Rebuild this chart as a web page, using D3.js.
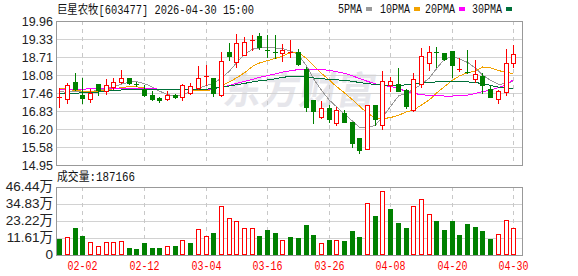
<!DOCTYPE html>
<html>
<head>
<meta charset="utf-8">
<script src="https://cdn.jsdelivr.net/npm/d3@7"></script>
<style>
body { margin: 0; background: #fff; }
svg { display: block; font-family: "Liberation Sans", "Noto Sans CJK SC", sans-serif; }
</style>
</head>
<body>
<div id="chart"></div>
<script>
// trading days shown (60 sessions)
var dates = ["01-28","01-29","01-30","02-02","02-03","02-04","02-05","02-06","02-09","02-10",
  "02-11","02-12","02-13","02-24","02-25","02-26","02-27","03-02","03-03","03-04",
  "03-05","03-06","03-09","03-10","03-11","03-12","03-13","03-16","03-17","03-18",
  "03-19","03-20","03-23","03-24","03-25","03-26","03-27","03-30","03-31","04-01",
  "04-02","04-03","04-07","04-08","04-09","04-10","04-13","04-14","04-15","04-16",
  "04-17","04-20","04-21","04-22","04-23","04-24","04-27","04-28","04-29","04-30"];

var openP = [17.32,17.24,17.84,17.39,17.24,17.76,17.52,17.65,17.84,17.97,
  17.77,17.58,17.37,17.28,17.24,17.39,17.33,17.46,17.63,18.04,
  17.97,17.39,18.89,18.53,18.79,19.29,19.44,18.96,18.89,18.86,
  18.86,18.88,18.28,17.21,16.63,16.93,16.42,16.77,16.45,15.89,
  15.50,17.03,16.33,17.75,17.77,17.56,16.87,17.77,18.49,18.87,
  18.84,18.91,18.27,18.19,17.93,18.05,17.61,17.24,17.49,18.51];
var closeP = [17.33,17.72,17.58,17.29,17.47,17.56,17.72,17.84,17.97,17.79,
  17.76,17.40,17.24,17.20,17.37,17.32,17.72,17.71,17.97,18.06,
  17.47,18.57,18.73,19.21,19.23,19.30,19.04,18.95,18.88,18.95,
  18.88,18.46,16.96,16.84,16.92,16.54,16.86,16.45,15.73,15.47,
  17.03,16.56,17.88,17.86,17.54,17.00,17.95,18.74,18.88,18.86,
  18.63,18.44,18.28,18.18,18.12,17.75,17.31,17.51,18.49,18.81];
var highP = [17.62,17.82,18.16,17.98,17.61,17.78,17.93,17.98,18.26,17.98,
  17.84,17.73,17.51,17.32,17.54,17.42,17.76,17.79,18.40,18.42,
  17.98,18.87,19.19,19.51,19.42,19.47,19.53,19.47,19.47,19.15,
  19.30,18.97,18.35,17.21,17.16,17.05,16.96,16.86,16.45,15.89,
  17.03,17.03,18.23,18.00,18.33,17.61,18.16,19.02,19.09,19.05,
  18.84,18.93,18.67,18.95,18.60,18.14,17.70,17.56,18.97,19.11];
var lowP = [16.96,17.12,17.56,17.12,17.15,17.40,17.42,17.61,17.79,17.77,
  17.70,17.35,17.21,17.13,17.21,17.28,17.21,17.42,17.61,17.72,
  17.35,17.35,18.59,18.37,18.77,18.95,18.99,18.72,18.66,18.56,
  18.70,18.44,16.82,16.42,16.59,16.45,16.33,16.45,15.59,15.38,
  15.49,16.33,16.19,17.51,17.51,16.93,16.84,17.65,18.26,18.37,
  18.60,18.02,18.21,18.14,17.84,17.44,17.31,17.12,17.40,18.35];
var prevClose = 17.40; // close of the session before 01-28

// volume in 万 (10k lots)
var volume = [10.93,12.07,18.44,12.98,8.88,5.92,8.88,8.88,9.56,4.78,
  4.10,8.20,4.78,4.78,5.92,6.15,10.24,8.20,17.53,12.75,
  15.03,33.25,25.05,23.00,18.20,18.20,12.98,17.07,15.03,10.24,
  12.29,11.61,20.49,13.66,8.20,10.24,10.24,9.56,16.39,12.29,
  35.30,26.60,43.50,31.40,21.90,18.40,33.50,38.00,28.00,23.20,
  17.07,23.20,13.66,21.20,19.10,16.39,10.93,14.34,23.70,18.72];

// moving averages
var ma5 = [17.50,17.48,17.52,17.52,17.50,17.55,17.60,17.68,17.76,17.84,
  17.85,17.78,17.66,17.52,17.40,17.34,17.40,17.50,17.62,17.72,
  17.78,17.98,18.22,18.50,18.80,18.98,19.02,19.03,19.02,19.00,
  18.92,18.78,18.40,17.95,17.55,17.20,16.98,16.72,16.48,16.25,
  16.24,16.34,16.62,16.98,17.35,17.45,17.58,17.76,17.98,18.30,
  18.64,18.72,18.64,18.52,18.32,18.08,17.90,17.76,17.78,17.88];
var ma10 = [17.62,17.58,17.54,17.52,17.51,17.52,17.56,17.60,17.64,17.68,
  17.67,17.63,17.58,17.56,17.56,17.57,17.58,17.56,17.54,17.54,
  17.58,17.70,17.84,17.98,18.16,18.38,18.50,18.58,18.66,18.74,
  18.86,18.88,18.65,18.42,18.14,17.90,17.68,17.46,17.22,17.00,
  16.74,16.60,16.56,16.60,16.68,16.80,16.86,17.04,17.22,17.45,
  17.68,17.90,18.05,18.16,18.22,18.36,18.33,18.24,18.16,18.14];
var ma20 = [17.56,17.57,17.58,17.59,17.60,17.61,17.62,17.62,17.62,17.62,
  17.62,17.61,17.60,17.59,17.58,17.57,17.57,17.57,17.57,17.58,
  17.60,17.66,17.72,17.79,17.86,17.93,18.00,18.06,18.12,18.18,
  18.23,18.27,18.28,18.28,18.27,18.24,18.20,18.14,18.05,17.96,
  17.86,17.77,17.72,17.68,17.62,17.50,17.44,17.40,17.37,17.36,
  17.35,17.35,17.36,17.38,17.44,17.50,17.56,17.64,17.74,17.92];
var ma30 = [17.44,17.44,17.45,17.46,17.47,17.49,17.52,17.54,17.56,17.58,
  17.58,17.58,17.58,17.57,17.56,17.56,17.56,17.57,17.58,17.59,
  17.61,17.66,17.70,17.74,17.79,17.84,17.88,17.91,17.95,18.00,
  18.03,18.03,18.01,17.98,17.95,17.93,17.91,17.90,17.86,17.82,
  17.78,17.75,17.73,17.72,17.72,17.74,17.76,17.80,17.83,17.84,
  17.85,17.85,17.85,17.84,17.82,17.78,17.72,17.66,17.63,17.62];

var maNames = ["5PMA", "10PMA", "20PMA", "30PMA"];
var maColors = ["#9a9a9a", "#f2a200", "#ff00ff", "#00703a"];

var priceTicks = [14.95, 15.58, 16.20, 16.83, 17.46, 18.08, 18.71, 19.33, 19.96];
var volTicks = [0, 11.61, 23.22, 34.83, 46.44];
var volTickLabels = ["0", "11.61万", "23.22万", "34.83万", "46.44万"];
var xTickLabels = ["02-02", "02-12", "03-04", "03-16", "03-26", "04-08", "04-20", "04-30"];

var title = "巨星农牧[603477] 2026-04-30 15:00";
var volTitle = "成交量:187166";

var RED = "#ff0000", GREEN = "#008000";
var pLeft = 56, pRight = 522, pTop = 21, pBot = 165, vTop = 187, vBot = 255;

var svg = d3.select("#chart").append("svg")
    .attr("width", 578)
    .attr("height", 276);

var x = d3.scaleBand().domain(d3.range(dates.length)).range([pLeft, 517.6]);
function px(i) { return Math.floor(x(i) + x.bandwidth() / 2); }
var yP = d3.scaleLinear().domain([priceTicks[0], priceTicks[priceTicks.length - 1]]).range([pBot, pTop]);
var yV = d3.scaleLinear().domain([0, volTicks[volTicks.length - 1]]).range([vBot, vTop]);

// watermark
svg.append("text")
    .attr("x", 222).attr("y", 104)
    .attr("font-size", 38).attr("font-weight", "bold")
    .attr("font-family", "Noto Sans CJK SC")
    .attr("fill", "#e6e6eb")
    .attr("transform", "skewX(-10) translate(18,0)")
    .text("东方财富");

// horizontal grid
svg.append("g").selectAll("line")
    .data(priceTicks.slice(1, -1))
    .enter().append("line")
    .attr("x1", pLeft).attr("x2", pRight)
    .attr("y1", function(d) { return Math.round(yP(d)) + 0.5; })
    .attr("y2", function(d) { return Math.round(yP(d)) + 0.5; })
    .attr("stroke", "#d2d2d2");
svg.append("g").selectAll("line")
    .data(volTicks.slice(1, -1))
    .enter().append("line")
    .attr("x1", pLeft).attr("x2", pRight)
    .attr("y1", function(d) { return Math.round(yV(d)) + 0.5; })
    .attr("y2", function(d) { return Math.round(yV(d)) + 0.5; })
    .attr("stroke", "#d2d2d2");

// vertical dashed grid at date labels
var tickIdx = xTickLabels.map(function(t) { return dates.indexOf(t); });
[[pTop, pBot], [vTop, vBot]].forEach(function(r) {
    svg.append("g").selectAll("line")
        .data(tickIdx)
        .enter().append("line")
        .attr("x1", function(i) { return px(i) + 0.5; })
        .attr("x2", function(i) { return px(i) + 0.5; })
        .attr("y1", r[0]).attr("y2", r[1])
        .attr("stroke", "#c8c8c8")
        .attr("stroke-dasharray", "4,4");
});

// moving average lines
var maData = [ma5, ma10, ma20, ma30];
var line = d3.line()
    .x(function(d, i) { return px(i) + 0.5; })
    .y(function(d) { return yP(d); });
maData.forEach(function(m, k) {
    svg.append("path")
        .datum(m)
        .attr("d", line)
        .attr("fill", "none")
        .attr("stroke", maColors[k])
        .attr("stroke-width", 1)
        .attr("shape-rendering", "crispEdges");
});

// candles
var candles = svg.append("g").attr("shape-rendering", "crispEdges");
dates.forEach(function(d, i) {
    var o = openP[i], c = closeP[i];
    var up = c >= o;
    var col = up ? RED : GREEN;
    var cxp = px(i);
    var top = Math.round(yP(Math.max(o, c)));
    var bot = Math.round(yP(Math.min(o, c)));
    candles.append("line")
        .attr("x1", cxp + 0.5).attr("x2", cxp + 0.5)
        .attr("y1", Math.round(yP(highP[i]))).attr("y2", Math.round(yP(lowP[i])) + 1)
        .attr("stroke", col);
    if (bot - top <= 1) {
        candles.append("line")
            .attr("x1", cxp - 2).attr("x2", cxp + 3)
            .attr("y1", top + 0.5).attr("y2", top + 0.5)
            .attr("stroke", col);
    } else if (up) {
        candles.append("rect")
            .attr("x", cxp - 1.5).attr("y", top + 0.5)
            .attr("width", 4).attr("height", bot - top)
            .attr("fill", "#fff").attr("stroke", col);
    } else {
        candles.append("rect")
            .attr("x", cxp - 2).attr("y", top)
            .attr("width", 5).attr("height", bot - top + 1)
            .attr("fill", col);
    }
});

// volume bars, coloured against the previous close
var vols = svg.append("g").attr("shape-rendering", "crispEdges");
volume.forEach(function(v, i) {
    var pc = i === 0 ? prevClose : closeP[i - 1];
    var up = closeP[i] >= pc;
    var cxp = px(i);
    var top = Math.round(yV(v));
    if (up) {
        vols.append("rect")
            .attr("x", cxp - 1.5).attr("y", top + 0.5)
            .attr("width", 4).attr("height", vBot - top - 1)
            .attr("fill", "#fff").attr("stroke", RED);
    } else {
        vols.append("rect")
            .attr("x", cxp - 2).attr("y", top)
            .attr("width", 5).attr("height", vBot - top)
            .attr("fill", GREEN);
    }
});

// frames
svg.append("rect")
    .attr("x", pLeft + 0.5).attr("y", pTop + 0.5)
    .attr("width", pRight - pLeft).attr("height", pBot - pTop)
    .attr("fill", "none").attr("stroke", "#999");
svg.append("rect")
    .attr("x", pLeft + 0.5).attr("y", vTop + 0.5)
    .attr("width", pRight - pLeft).attr("height", vBot - vTop)
    .attr("fill", "none").attr("stroke", "#999");

// y axis labels
svg.append("g").selectAll("text")
    .data(priceTicks)
    .enter().append("text")
    .attr("x", 53)
    .attr("y", function(d) { return Math.round(yP(d)) + 4.5; })
    .attr("text-anchor", "end")
    .attr("font-size", 12.5)
    .attr("fill", "#222")
    .text(function(d) { return d.toFixed(2); });
svg.append("g").selectAll("text")
    .data(volTicks)
    .enter().append("text")
    .attr("x", 53)
    .attr("y", function(d) { return Math.round(yV(d)) + 4; })
    .attr("text-anchor", "end")
    .attr("font-size", 13.5)
    .attr("fill", "#222")
    .text(function(d, i) { return volTickLabels[i]; });

// x axis labels
svg.append("g").selectAll("text")
    .data(tickIdx)
    .enter().append("text")
    .attr("x", function(i) { return px(i) + 0.5; })
    .attr("y", 270)
    .attr("text-anchor", "middle")
    .attr("font-family", "Liberation Mono")
    .attr("font-size", 12)
    .attr("textLength", 30)
    .attr("lengthAdjust", "spacingAndGlyphs")
    .attr("fill", RED)
    .text(function(i) { return dates[i]; });

// title and volume caption
svg.append("text")
    .attr("x", 57).attr("y", 14)
    .attr("font-family", "Liberation Mono, Noto Sans CJK SC")
    .attr("font-size", 12)
    .attr("textLength", 197)
    .attr("lengthAdjust", "spacingAndGlyphs")
    .attr("fill", "#111")
    .text(title);
svg.append("text")
    .attr("x", 57).attr("y", 181)
    .attr("font-family", "Liberation Mono, Noto Sans CJK SC")
    .attr("font-size", 12)
    .attr("textLength", 78)
    .attr("lengthAdjust", "spacingAndGlyphs")
    .attr("fill", "#111")
    .text(volTitle);

// legend
var legendX = [338, 380, 425, 472];
maNames.forEach(function(n, k) {
    svg.append("text")
        .attr("x", legendX[k]).attr("y", 13)
        .attr("font-family", "Liberation Mono")
        .attr("font-size", 12)
        .attr("textLength", n.length * 6)
        .attr("lengthAdjust", "spacingAndGlyphs")
        .attr("fill", "#111")
        .text(n);
    svg.append("rect")
        .attr("x", legendX[k] + n.length * 6 + 4).attr("y", 7)
        .attr("width", 6).attr("height", 4)
        .attr("fill", maColors[k]);
});
</script>
</body>
</html>
